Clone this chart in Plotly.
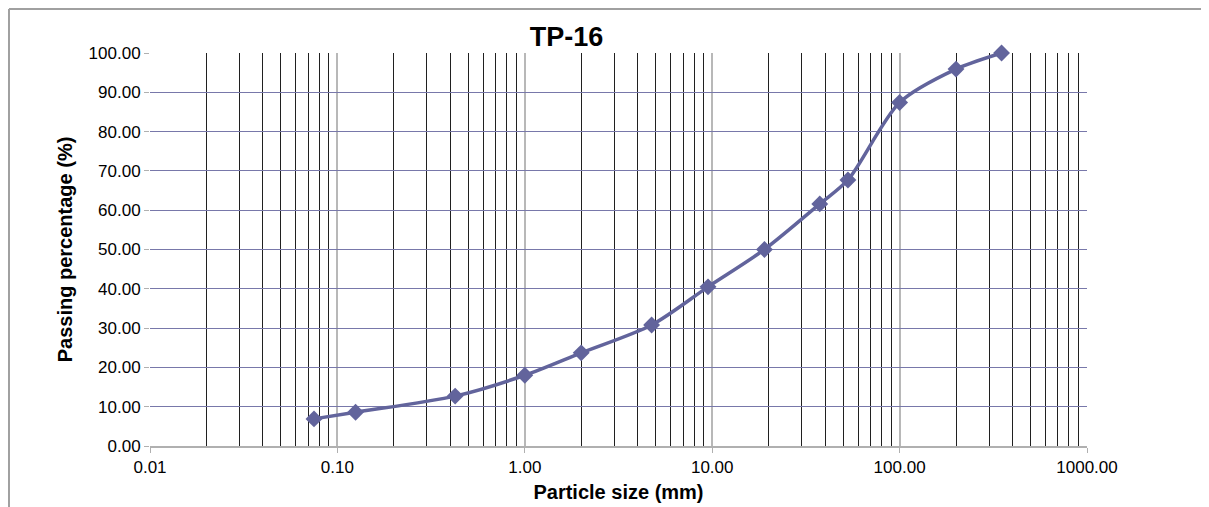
import plotly.graph_objects as go

# Sieve data for TP-16
particle_size = [0.075, 0.125, 0.425, 1.0, 2.0, 4.75, 9.5, 19.0, 37.5, 53.0, 100.0, 200.0, 350.0]
passing_pct = [6.9, 8.6, 12.7, 18.0, 23.7, 30.8, 40.5, 50.0, 61.6, 67.7, 87.4, 95.9, 100.0]

x_tickvals = [0.01, 0.1, 1, 10, 100, 1000]
x_ticktext = ["0.01", "0.10", "1.00", "10.00", "100.00", "1000.00"]
y_tickvals = list(range(0, 101, 10))
y_ticktext = ["%.2f" % v for v in y_tickvals]

minor_vals = [m * 10 ** e for e in range(-2, 3) for m in range(2, 10)]

font_family = "Liberation Sans, Arial, sans-serif"
line_color = "#62649c"

fig = go.Figure()
fig.add_trace(go.Scatter(
    x=particle_size,
    y=passing_pct,
    mode="lines+markers",
    line=dict(color=line_color, width=3.5, shape="spline", smoothing=0.8),
    marker=dict(symbol="diamond", size=13, color=line_color),
    cliponaxis=False,
    showlegend=False,
))

fig.update_layout(
    width=1209,
    height=507,
    margin=dict(l=142, r=130, t=45, b=69),
    paper_bgcolor="white",
    plot_bgcolor="white",
    font=dict(family=font_family, size=17, color="black"),
    title=dict(text="<b>TP-16</b>", x=0.462, xanchor="center",
               y=0.962, yanchor="top", font=dict(size=27)),
    xaxis=dict(
        type="log",
        range=[-2, 3],
        tickvals=x_tickvals,
        ticktext=x_ticktext,
        showgrid=True,
        gridcolor="#b8b8b8",
        gridwidth=1.5,
        ticks="outside",
        ticklen=5,
        tickcolor="#b0b0b0",
        showline=True,
        linecolor="#b0b0b0",
        linewidth=1.5,
        minor=dict(tickvals=minor_vals, showgrid=True, gridcolor="#202020",
                   gridwidth=1, ticks=""),
        title=dict(text="<b>Particle size (mm)</b>", font=dict(size=20), standoff=9),
        zeroline=False,
    ),
    yaxis=dict(
        range=[0, 100],
        tickvals=y_tickvals,
        ticktext=y_ticktext,
        showgrid=True,
        gridcolor="#7878aa",
        gridwidth=1,
        ticks="outside",
        ticklen=5,
        tickcolor="#b0b0b0",
        showline=False,
        title=dict(text="<b>Passing percentage (%)</b>", font=dict(size=20), standoff=10),
        zeroline=False,
    ),
    shapes=[
        dict(type="line", xref="paper", yref="paper", x0=-0.1505, x1=-0.1505,
             y0=-0.25, y1=1.112, line=dict(color="#a0a0a0", width=2)),
        dict(type="line", xref="paper", yref="paper", x0=-0.1505, x1=1.2,
             y0=1.112, y1=1.112, line=dict(color="#a0a0a0", width=2)),
    ],
)

fig.write_html("out.html")
